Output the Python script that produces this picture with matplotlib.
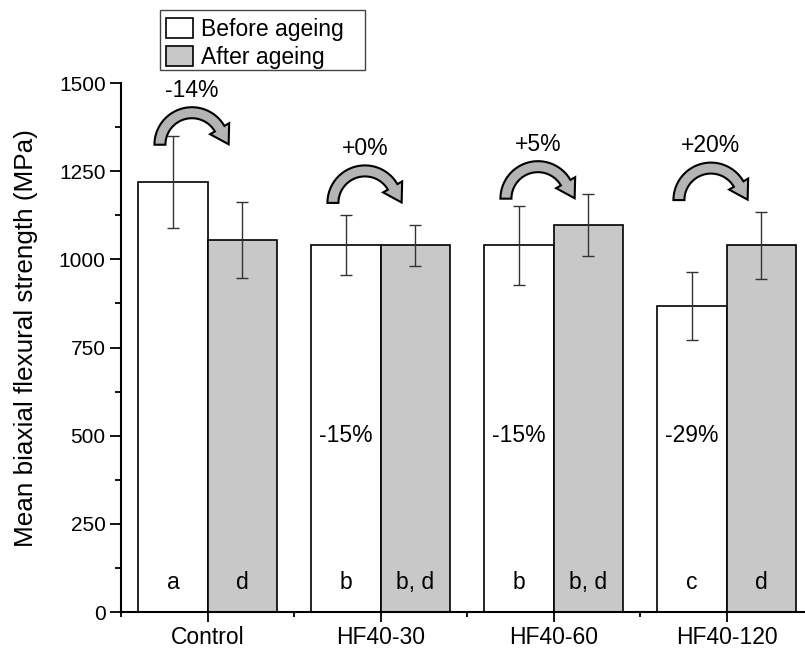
import matplotlib
matplotlib.use('Agg')
import matplotlib.pyplot as plt
import matplotlib.transforms as mtransforms
from matplotlib.patches import Patch, Polygon, Rectangle
from matplotlib.ticker import MultipleLocator
import numpy as np

plt.rcParams['font.family'] = ['Liberation Sans', 'DejaVu Sans']

groups = ['Control', 'HF40-30', 'HF40-60', 'HF40-120']
before_mean = [1220, 1040, 1040, 867]
before_err = [130, 85, 112, 97]
after_mean = [1055, 1040, 1097, 1040]
after_err = [107, 58, 88, 95]
before_letters = ['a', 'b', 'b', 'c']
after_letters = ['d', 'b, d', 'b, d', 'd']
ageing_change = ['-14%', '+0%', '+5%', '+20%']
arrow_level = [1325, 1160, 1172, 1168]
drop_vs_control = ['', '-15%', '-15%', '-29%']

fs = 16.5

fig = plt.figure(figsize=(8.05, 6.49), dpi=100)
W, H = 805, 649
ax = fig.add_axes([121 / W, 1 - 612 / H, 692 / W, 529 / H])

x = np.arange(1, len(groups) + 1)
w = 0.4
ax.bar(x - w / 2, before_mean, w, color='white', edgecolor='black', linewidth=1.2, zorder=2)
ax.bar(x + w / 2, after_mean, w, color='#c8c8c8', edgecolor='black', linewidth=1.2, zorder=2)
ax.errorbar(x - w / 2, before_mean, yerr=before_err, fmt='none', ecolor='#333333',
            elinewidth=1, capsize=4, capthick=1, zorder=3)
ax.errorbar(x + w / 2, after_mean, yerr=after_err, fmt='none', ecolor='#333333',
            elinewidth=1, capsize=4, capthick=1, zorder=3)

ax.set_xlim(0.5, 4.5)
ax.set_ylim(0, 1500)
ax.set_xticks(x)
ax.set_xticklabels(groups, fontsize=fs)
ax.xaxis.set_minor_locator(MultipleLocator(0.5))
ax.yaxis.set_major_locator(MultipleLocator(250))
ax.yaxis.set_minor_locator(MultipleLocator(125))
ax.tick_params(axis='both', which='major', width=1.3, color='black')
ax.tick_params(axis='x', which='major', length=7, pad=3.2, labelsize=fs)
ax.tick_params(axis='x', which='minor', length=3.5, width=1.3)
ax.tick_params(axis='y', which='major', length=8, pad=3, labelsize=15)
ax.tick_params(axis='y', which='minor', length=4.5, width=1.3)
ax.set_ylabel('Mean biaxial flexural strength (MPa)', fontsize=18.8)
ax.yaxis.set_label_coords((38 - 121) / 692, (612 - 338) / 529)
for s in ['top', 'right']:
    ax.spines[s].set_visible(False)
for s in ['left', 'bottom']:
    ax.spines[s].set_linewidth(1.5)

for i in range(len(groups)):
    ax.text(x[i] - w / 2, 85, before_letters[i], ha='center', va='center', fontsize=fs)
    ax.text(x[i] + w / 2, 85, after_letters[i], ha='center', va='center', fontsize=fs)
    if drop_vs_control[i]:
        ax.text(x[i] - w / 2, 500, drop_vs_control[i], ha='center', va='center', fontsize=fs)


# curved arrow, shape drawn in pixels around a data anchor
def curved_arrow(cx, cy):
    rc, bw, hw, hl = 32, 5.5, 11.0, 18.0
    te = np.radians(30)
    ang = np.linspace(np.pi, te, 40)
    outer = np.c_[(rc + bw) * np.cos(ang), (rc + bw) * np.sin(ang)]
    inner = np.c_[(rc - bw) * np.cos(ang[::-1]), (rc - bw) * np.sin(ang[::-1])]
    base = np.array([rc * np.cos(te), rc * np.sin(te)])
    tang = np.array([np.sin(te), -np.cos(te)])
    radial = np.array([np.cos(te), np.sin(te)])
    head = np.array([base + radial * hw, base + tang * hl, base - radial * hw])
    pts = np.vstack([outer, head, inner])
    trans = mtransforms.Affine2D() + mtransforms.ScaledTranslation(cx, cy, ax.transData)
    poly = Polygon(pts, closed=True, facecolor='#b4b4b4', edgecolor='black',
                   linewidth=1.5, transform=trans, clip_on=False, zorder=4)
    ax.add_patch(poly)


for i in range(len(groups)):
    cx = x[i] - 0.09
    curved_arrow(cx, arrow_level[i])
    ax.text(cx, arrow_level[i] + 155, ageing_change[i], ha='center', va='center', fontsize=fs)

# legend box sits above the axes, frame drawn separately
fig.patches.append(Rectangle((160 / W, 1 - 70 / H), 205 / W, 60 / H, transform=fig.transFigure,
                             facecolor='white', edgecolor='#444444', linewidth=1.0, zorder=0))
handles = [Patch(facecolor='white', edgecolor='black', linewidth=1.2),
           Patch(facecolor='#c8c8c8', edgecolor='black', linewidth=1.2)]
leg = fig.legend(handles, ['Before ageing', 'After ageing'], loc='upper left',
                 bbox_to_anchor=(160 / W, 1 - 12 / H), fontsize=fs, frameon=False,
                 handlelength=1.2, handleheight=1.0, labelspacing=0.22, borderpad=0.25,
                 handletextpad=0.36, borderaxespad=0)

fig.savefig('out.png', dpi=100)
